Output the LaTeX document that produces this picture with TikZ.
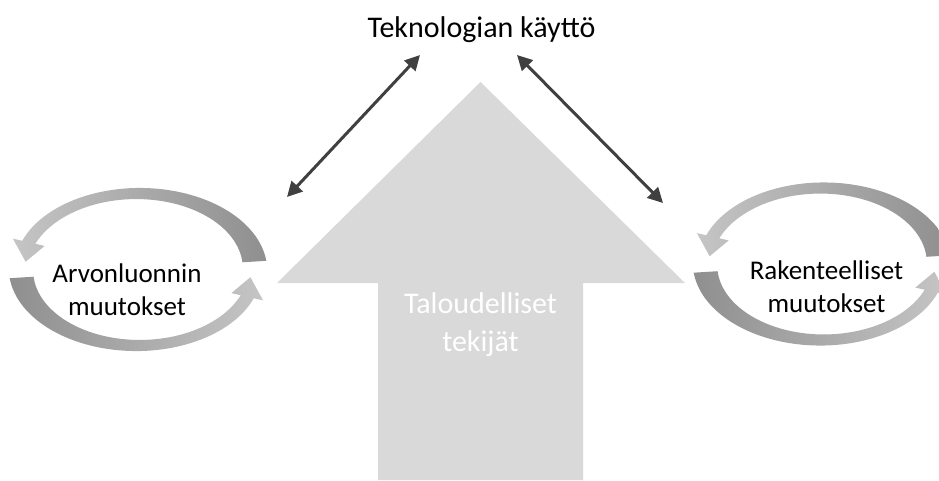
\documentclass[tikz,border=0pt]{standalone}
\usepackage{fontspec}
\setmainfont{Carlito}
\usetikzlibrary{arrows.meta}

\definecolor{arrowdark}{RGB}{143,143,143}
\definecolor{arrowlight}{RGB}{197,197,197}
\definecolor{flowgray}{RGB}{217,217,217}
\definecolor{linkgray}{RGB}{64,64,64}

\tikzset{
  caption/.style={inner sep=0pt, text=black, align=center,
    font=\fontsize{27}{33}\selectfont},
  bigcaption/.style={inner sep=0pt, align=center,
    font=\fontsize{30}{38}\selectfont},
  link/.style={draw=linkgray, line width=3pt,
    {Triangle[length=15pt,width=15pt]}-{Triangle[length=15pt,width=15pt]}},
  % two tapering elliptical arrows chasing each other round a centre
  loop pair/.pic={
    \shade[left color=arrowlight, right color=arrowdark]
      plot[domain=6:159, samples=60]
        ({(117+halfw(\x))*cos(\x)}, {-(76+0.6*halfw(\x))*sin(\x)})
      -- ({134*cos(159)}, {-86.2*sin(159)})
      -- ({113*cos(174)}, {-74*sin(174)})
      -- ({100*cos(159)}, {-65.8*sin(159)})
      -- plot[domain=159:6, samples=60]
        ({(117-halfw(\x))*cos(\x)}, {-(76-0.6*halfw(\x))*sin(\x)})
      -- cycle;
    \shade[left color=arrowdark, right color=arrowlight]
      plot[domain=186:339, samples=60]
        ({(117+halfw(\x-180))*cos(\x)}, {-(76+0.6*halfw(\x-180))*sin(\x)})
      -- ({134*cos(339)}, {-86.2*sin(339)})
      -- ({113*cos(354)}, {-74*sin(354)})
      -- ({100*cos(339)}, {-65.8*sin(339)})
      -- plot[domain=339:186, samples=60]
        ({(117-halfw(\x-180))*cos(\x)}, {-(76-0.6*halfw(\x-180))*sin(\x)})
      -- cycle;
  }
}

\begin{document}
\begin{tikzpicture}[x=1pt, y=-1pt,
  declare function={halfw(\t)=12-5*(\t-6)/153;}]
\useasboundingbox (0,0) rectangle (939,480);
\clip (0,0) rectangle (939,480);

% upward block arrow
\fill[flowgray] (378,480) -- (378,283) -- (277,283) -- (480.5,82)
  -- (685,283) -- (583,283) -- (583,480) -- cycle;
% base anchor of a two-line node sits on its last line
\node[bigcaption, text=white, anchor=base] (econ) at (480.5,351)
  {Taloudelliset\\tekijät};

% the two cycles
\pic at (138,269.5) {loop pair};
\pic at (822,264) {loop pair};
\node[caption, anchor=base] (value) at (127,315) {Arvonluonnin\\muutokset};
\node[caption, anchor=base] (struct) at (826.5,312) {Rakenteelliset\\muutokset};

% top label and its links
\node[bigcaption, text=black, anchor=base] (tech) at (481.5,37) {Teknologian käyttö};
\coordinate (techL) at (420,55);
\coordinate (techR) at (517,55);
\coordinate (valueTop) at (287,197);
\coordinate (structTop) at (663,203);
\draw[link] (valueTop) -- (techL);
\draw[link] (techR) -- (structTop);
\end{tikzpicture}
\end{document}
